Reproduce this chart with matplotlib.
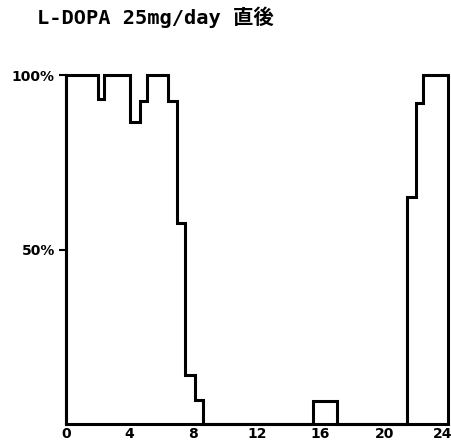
import matplotlib
matplotlib.use("Agg")
import matplotlib.pyplot as plt
import matplotlib.transforms as mtransforms

# Data: hour edges (step boundaries) and percentage per step
edges = [0, 2.0, 2.4, 4.0, 4.65, 5.1, 6.4, 7.0, 7.5, 8.1, 8.6,
         15.5, 17.0, 21.4, 22.0, 22.45, 24]
values = [100, 93, 100, 86.5, 92.5, 100, 92.5, 57.5, 14, 7, 0,
          6.5, 0, 65, 92, 100]
xticks = [0, 4, 8, 12, 16, 20, 24]
yticks = [50, 100]
ytick_labels = ["50%", "100%"]
title = "L-DOPA 25mg/day 直後"

fig = plt.figure(figsize=(4.52, 4.44), dpi=100)
ax = fig.add_axes([0.146, 0.045, 0.845, 0.786])

ax.stairs(values, edges, baseline=0, color="black", lw=2.2, clip_on=False)

ax.set_xlim(0, 24)
ax.set_ylim(0, 100)
ax.set_xticks(xticks)
ax.set_xticklabels([str(t) for t in xticks], fontsize=10, fontweight="bold")
ax.set_yticks(yticks)
ax.set_yticklabels(ytick_labels, fontsize=10, fontweight="bold")
ax.tick_params(axis="x", length=0, pad=2)
ax.tick_params(axis="y", length=5, width=1.5, pad=3)

# nudge the last x label so it stays inside the figure
last = ax.get_xticklabels()[-1]
last.set_transform(last.get_transform() +
                   mtransforms.ScaledTranslation(-5 / 100, 0, fig.dpi_scale_trans))

for s in ["top", "right"]:
    ax.spines[s].set_visible(False)
for s in ["left", "bottom"]:
    ax.spines[s].set_linewidth(2.2)

fig.text(0.082, 0.962, title, fontsize=14.7, fontweight="bold",
         family=["DejaVu Sans Mono", "Noto Sans CJK JP"], va="center", ha="left")

fig.savefig("out.png", dpi=100)
